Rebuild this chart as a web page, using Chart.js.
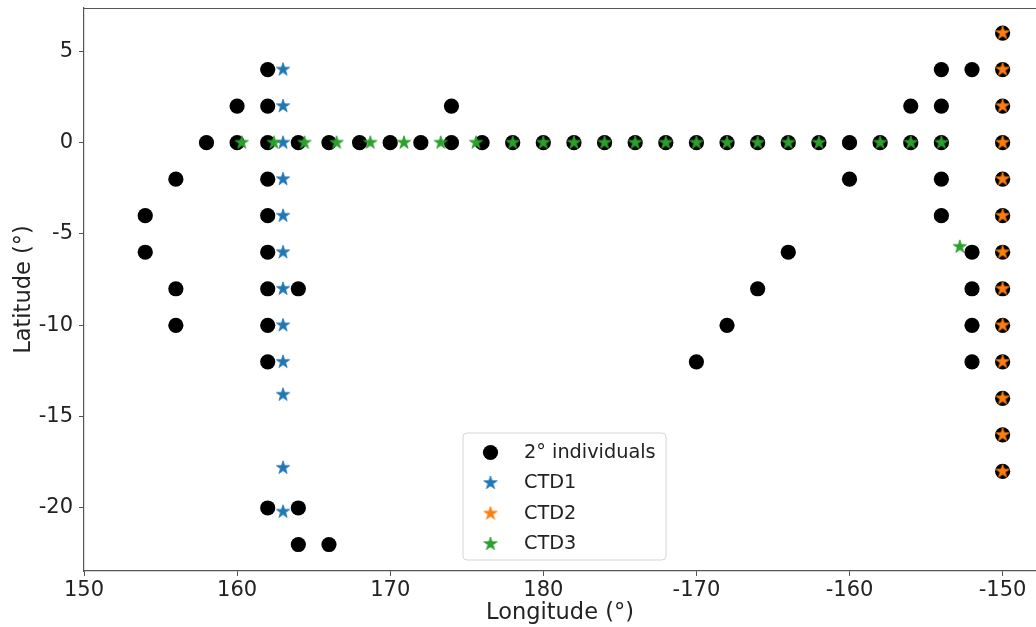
<!DOCTYPE html>
<html><head><meta charset="utf-8">
<script src="https://cdn.jsdelivr.net/npm/chart.js@4.4.0/dist/chart.umd.min.js"></script>
<style>html,body{margin:0;padding:0;background:#fff;overflow:hidden}</style>
</head><body>
<canvas id="c" width="1036" height="627" style="display:block;width:1036px;height:627px"></canvas>
<script>
// ---- tick labels ----
const xTickValues = [150, 160, 170, 180, 190, 200, 210];
const xTickLabels = ['150', '160', '170', '180', '-170', '-160', '-150'];
const yTickValues = [-20, -15, -10, -5, 0, 5];
const yTickLabels = ['-20', '-15', '-10', '-5', '0', '5'];

// ---- series (longitude as degrees east, 0-360) ----
const seriesNames = ['2° individuals', 'CTD1', 'CTD2', 'CTD3'];

const indivLon = [154, 154, 156, 156, 156, 158, 160, 160,
  162, 162, 162, 162, 162, 162, 162, 162, 162, 162,
  164, 164, 164, 164, 166, 166, 168, 170, 172, 174, 174, 176,
  178, 180, 182, 184, 186, 188, 190, 192, 194, 196, 198, 200, 202, 204, 206,
  190, 192, 194, 196, 200, 204, 206, 206, 206, 206,
  208, 208, 208, 208, 208,
  210, 210, 210, 210, 210, 210, 210, 210, 210, 210, 210, 210, 210];
const indivLat = [-4, -6, -2, -8, -10, 0, 2, 0,
  4, 2, 0, -2, -4, -6, -8, -10, -12, -20,
  0, -8, -20, -22, 0, -22, 0, 0, 0, 2, 0, 0,
  0, 0, 0, 0, 0, 0, 0, 0, 0, 0, 0, 0, 0, 0, 0,
  -12, -10, -8, -6, -2, 2, 4, 2, -2, -4,
  4, -6, -8, -10, -12,
  6, 4, 2, 0, -2, -4, -6, -8, -10, -12, -14, -16, -18];

const ctd1Lon = [163, 163, 163, 163, 163, 163, 163, 163, 163, 163, 163, 163];
const ctd1Lat = [4, 2, 0, -2, -4, -6, -8, -10, -12, -13.8, -17.8, -20.2];

const ctd2Lon = [210, 210, 210, 210, 210, 210, 210, 210, 210, 210, 210, 210, 210];
const ctd2Lat = [6, 4, 2, 0, -2, -4, -6, -8, -10, -12, -14, -16, -18];

const ctd3Lon = [160.3, 162.4, 164.4, 166.5, 168.7, 170.9, 173.3, 175.6,
  178, 180, 182, 184, 186, 188, 190, 192, 194, 196, 198, 202, 204, 206, 207.2];
const ctd3Lat = [0, 0, 0, 0, 0, 0, 0, 0,
  0, 0, 0, 0, 0, 0, 0, 0, 0, 0, 0, 0, 0, 0, -5.7];

const colors = ['#000000', '#1f77b4', '#ff7f0e', '#2ca02c'];

function pts(xs, ys) { return xs.map((x, i) => ({ x: x, y: ys[i] })); }

function starCanvas(color, R) {
  const s = Math.ceil(R * 2 + 4);
  const c = document.createElement('canvas');
  c.width = s; c.height = s;
  const g = c.getContext('2d');
  g.translate(s / 2, s / 2);
  g.beginPath();
  const r = R * 0.381966;
  for (let i = 0; i < 10; i++) {
    const rad = (i % 2 === 0) ? R : r;
    const a = -Math.PI / 2 + i * Math.PI / 5;
    const px = rad * Math.cos(a), py = rad * Math.sin(a);
    if (i === 0) g.moveTo(px, py); else g.lineTo(px, py);
  }
  g.closePath();
  g.fillStyle = color;
  g.fill();
  g.lineWidth = 0.8;
  g.strokeStyle = color;
  g.stroke();
  return c;
}

const starR = 7;
const stars = [null, starCanvas(colors[1], starR), starCanvas(colors[2], starR), starCanvas(colors[3], starR)];
const circleR = 7.6;

const FONT = "'DejaVu Sans', sans-serif";
const TXT = '#222222';
const SPINE = '#555555';

const legendPlugin = {
  id: 'boxLegend',
  afterDraw(chart) {
    const ctx = chart.ctx;
    const bx = 463, by = 433, bw = 203, bh = 127, rr = 4;
    ctx.save();
    ctx.beginPath();
    ctx.moveTo(bx + rr, by);
    ctx.arcTo(bx + bw, by, bx + bw, by + bh, rr);
    ctx.arcTo(bx + bw, by + bh, bx, by + bh, rr);
    ctx.arcTo(bx, by + bh, bx, by, rr);
    ctx.arcTo(bx, by, bx + bw, by, rr);
    ctx.closePath();
    ctx.fillStyle = 'rgba(255,255,255,0.85)';
    ctx.fill();
    ctx.strokeStyle = '#d6d6d6';
    ctx.lineWidth = 1;
    ctx.stroke();
    ctx.font = '19.3px ' + FONT;
    ctx.textBaseline = 'middle';
    ctx.textAlign = 'left';
    chart.data.datasets.forEach((ds, i) => {
      const y = 452.5 + i * 30.5;
      const mx = 490.5;
      if (i === 0) {
        ctx.beginPath();
        ctx.arc(mx, y, circleR, 0, Math.PI * 2);
        ctx.fillStyle = colors[0];
        ctx.fill();
      } else {
        const im = stars[i];
        ctx.drawImage(im, mx - im.width / 2, y - im.height / 2);
      }
      ctx.fillStyle = TXT;
      ctx.fillText(ds.label, 524, y);
    });
    // top spine
    const a = chart.chartArea;
    ctx.beginPath();
    ctx.moveTo(a.left, a.top + 0.5);
    ctx.lineTo(a.right, a.top + 0.5);
    ctx.strokeStyle = SPINE;
    ctx.lineWidth = 1.2;
    ctx.stroke();
    ctx.restore();
  }
};

new Chart(document.getElementById('c'), {
  type: 'scatter',
  data: {
    datasets: [
      { label: seriesNames[0], data: pts(indivLon, indivLat), pointStyle: 'circle', pointRadius: circleR,
        backgroundColor: colors[0], borderColor: colors[0], borderWidth: 0, order: 4 },
      { label: seriesNames[1], data: pts(ctd1Lon, ctd1Lat), pointStyle: stars[1], order: 3 },
      { label: seriesNames[2], data: pts(ctd2Lon, ctd2Lat), pointStyle: stars[2], order: 2 },
      { label: seriesNames[3], data: pts(ctd3Lon, ctd3Lat), pointStyle: stars[3], order: 1 }
    ]
  },
  options: {
    responsive: false,
    animation: false,
    devicePixelRatio: 1,
    events: [],
    layout: { autoPadding: false, padding: { top: 8, left: 0, right: 0, bottom: 0 } },
    plugins: { legend: { display: false }, tooltip: { enabled: false } },
    scales: {
      x: {
        type: 'linear', min: 150, max: 212.18,
        afterFit(s) { s.height = 56; s.paddingLeft = 0; s.paddingRight = 0; },
        afterBuildTicks(s) { s.ticks = xTickValues.map(v => ({ value: v })); },
        grid: { display: true, drawOnChartArea: false, drawTicks: true, tickLength: 5, color: SPINE, tickWidth: 1 },
        border: { display: true, color: SPINE, width: 1.2 },
        ticks: {
          color: TXT, font: { family: FONT, size: 21 }, padding: 2, maxRotation: 0, autoSkip: false,
          callback: (v) => { const i = xTickValues.indexOf(v); return i >= 0 ? xTickLabels[i] : ''; }
        },
        title: { display: true, text: 'Longitude (°)', color: TXT, font: { family: FONT, size: 22.5 }, padding: { top: 0, bottom: 0 } }
      },
      y: {
        type: 'linear', min: -23.45, max: 7.37,
        afterFit(s) { s.width = 84; s.paddingTop = 0; s.paddingBottom = 0; },
        afterBuildTicks(s) { s.ticks = yTickValues.map(v => ({ value: v })); },
        grid: { display: true, drawOnChartArea: false, drawTicks: true, tickLength: 5, color: SPINE, tickWidth: 1 },
        border: { display: true, color: SPINE, width: 1.2 },
        ticks: {
          color: TXT, font: { family: FONT, size: 21 }, padding: 6, autoSkip: false,
          callback: (v) => { const i = yTickValues.indexOf(v); return i >= 0 ? yTickLabels[i] : ''; }
        },
        title: { display: true, text: 'Latitude (°)', color: TXT, font: { family: FONT, size: 22.5 }, padding: { top: 11, bottom: 0 } }
      }
    }
  },
  plugins: [legendPlugin]
});
</script>
</body></html>
